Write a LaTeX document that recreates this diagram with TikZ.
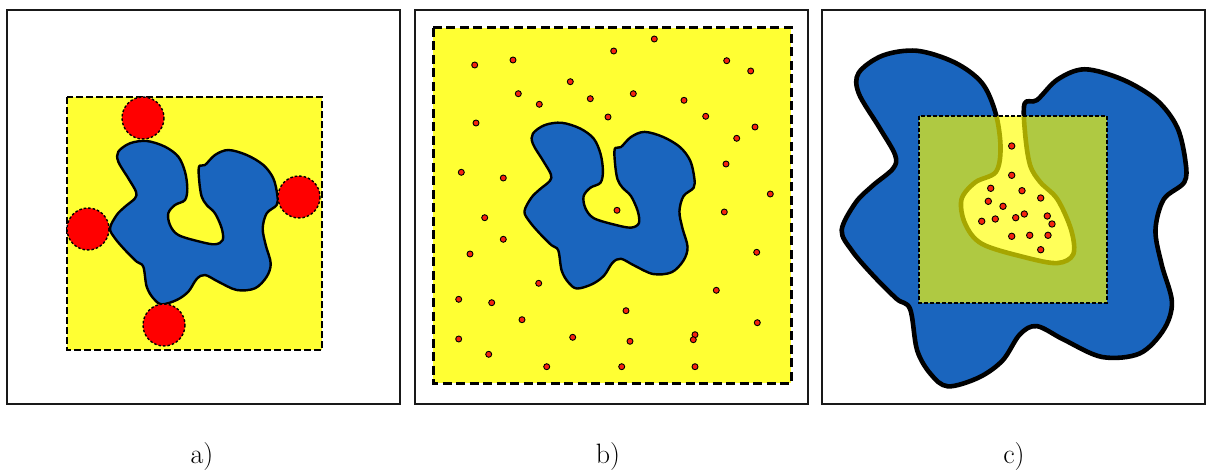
\documentclass[tikz,border=0pt]{standalone}
\usepackage{fontspec}
\usepackage{tikz}
\definecolor{myblue}{RGB}{26,101,190}
\definecolor{myyellow}{RGB}{255,255,51}
\definecolor{cyellow}{RGB}{255,255,0}
\definecolor{dotred}{RGB}{245,35,15}
\definecolor{circred}{RGB}{255,0,0}
\tikzset{
  blob/.style={insert path={plot[smooth cycle,tension=0.55] coordinates {
    (-75.7,-71.3) (-64,-79.7) (-47.3,-82) (-29,-76.3) (-15.7,-66.3) (-9,-51.3)
    (-6.7,-34.7) (-9,-23) (-19,-18) (-25.7,-9.7) (-24,2) (-15.7,12) (6,18.7)
    (21,21.3) (28.7,17) (27.7,5.3) (21,-9.7) (12.7,-18) (7.7,-26.3) (5.3,-41.3)
    (5,-56.3) (11,-58) (21,-68) (34.3,-73) (52.7,-68) (69.3,-58) (79.3,-44.7)
    (83.3,-28) (82.7,-18) (72.7,-9.7) (68.7,5.3) (71.7,22) (76.7,40.3) (72.7,53.7)
    (61,65.3) (42.7,67) (24.3,58.7) (11,52) (2.7,56) (-5.7,68.7) (-17.3,77)
    (-32.3,81.3) (-40.7,75.3) (-47.3,63.7) (-50.7,43.7) (-57.3,38.7) (-69,27)
    (-79,15.3) (-84,5.3) (-77.3,-8) (-69,-16.3) (-59,-24.7) (-58,-31.3)
    (-65.7,-44.7) (-75.7,-61.3)}}},
  panel/.style={draw=black!90, line width=1.8pt},
  blobline/.style={fill=myblue, draw=black, line width=2.4pt, line join=round},
  bigcirc/.style={fill=circred, draw=black, line width=1.4pt, dash pattern=on 2.5pt off 2pt},
  rdot/.style={fill=dotred, draw=black, line width=0.9pt},
  lab/.style={font=\fontsize{28}{32}\selectfont, inner sep=0pt, anchor=base}
}
\begin{document}
\begin{tikzpicture}[x=1pt,y=-1pt]
\useasboundingbox (0,0) rectangle (1207,470);
% panel a
\draw[panel] (7,10) rectangle (400,404);
\fill[myyellow] (67,97) rectangle (322,350);
\draw[line width=1.5pt, dash pattern=on 7pt off 3pt] (67,97) rectangle (322,350);
\begin{scope}[shift={(194,223)}]
  \draw[blobline, blob];
\end{scope}
\foreach \p in {(143,118),(88,229),(299,197),(164,325)}
  \draw[bigcirc] \p circle (21);
% panel b
\draw[panel] (415,10) rectangle (808,404);
\fill[myyellow] (433,28) rectangle (791,383);
\draw[line width=3pt, dash pattern=on 9pt off 4.5pt] (433,28) rectangle (791,383);
\begin{scope}[shift={(609.7,206)}, scale=1.015]
  \draw[blobline, blob];
\end{scope}
\foreach \p in {(654.3,39),(613.7,51),(474.7,65),(513,60),(726.7,60.7),(750.7,71),
  (570.3,81.7),(518.3,93.7),(590.3,98.7),(633.3,93.7),(684,100.3),(539.3,104.3),
  (608,117),(705.7,116.3),(476,123),(755,127),(736.7,138.3),(726,164),(461.3,172.3),
  (503.3,178),(770.3,194),(617,210.3),(724.3,212),(484.7,217.7),(503.3,239.3),
  (470,254),(756.7,252.3),(538.7,283.3),(716.3,290.3),(458.7,299.3),(491.7,302.7),
  (626,310.7),(522,319.7),(757.3,322.7),(458.7,339),(572.7,337.3),(630,341.3),
  (695,334.7),(693.3,339.7),(488.7,354.3),(546.7,366.7),(621.7,366.7),(695,366.7)}
  \draw[rdot] \p circle (3);
% panel c
\draw[panel] (822,10) rectangle (1205,404);
\begin{scope}[shift={(1014.3,219.3)}, scale=2.055]
  \draw[blobline, line width=4.6pt, blob];
\end{scope}
\fill[cyellow, fill opacity=0.65] (919,116) rectangle (1107,303);
\draw[line width=1.2pt, dash pattern=on 4pt off 2pt] (919,116) rectangle (1107,303);
\foreach \p in {(1011.7,146),(1011.7,175.3),(990.7,188.3),(1022,190.7),(1040.7,198),
  (988.3,201.3),(1003,206.3),(1024.3,214),(1047.3,216),(981.7,221.3),(995.3,219),
  (1015.7,217.7),(1052,224),(1011.7,236.3),(1029.7,235.3),(1048,235.3),(1040.7,249.7)}
  \draw[rdot] \p circle (3.2);
% labels
\node[lab] (la) at (202,463) {a)};
\node[lab] (lb) at (608,463) {b)};
\node[lab] (lc) at (1014,463) {c)};
\end{tikzpicture}
\end{document}
